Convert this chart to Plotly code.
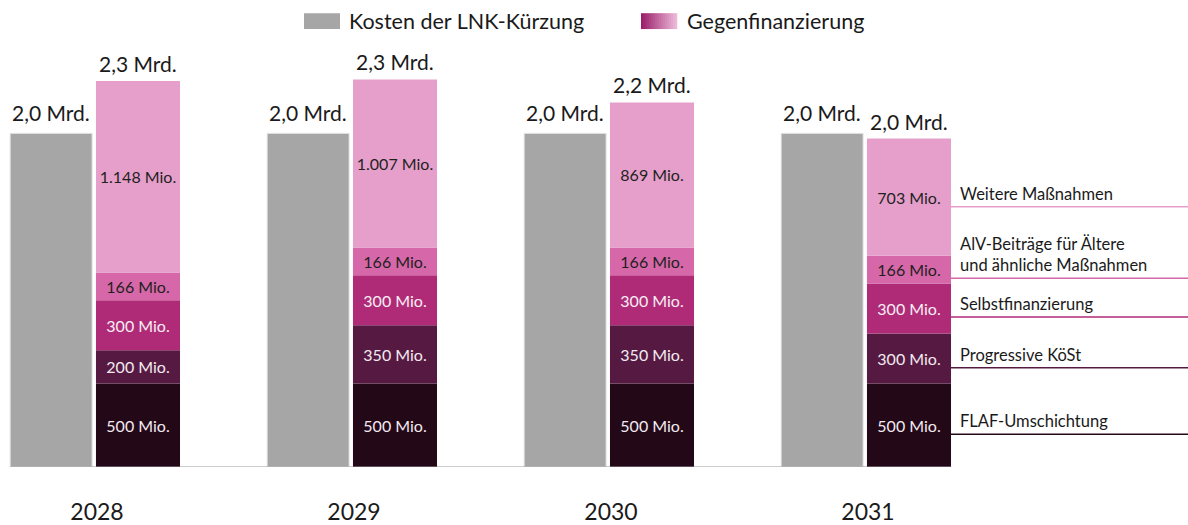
import numpy as np
import plotly.graph_objects as go

years = ["2028", "2029", "2030", "2031"]
kosten = [2000, 2000, 2000, 2000]
kosten_labels = ["2,0 Mrd.", "2,0 Mrd.", "2,0 Mrd.", "2,0 Mrd."]
total_labels = ["2,3 Mrd.", "2,3 Mrd.", "2,2 Mrd.", "2,0 Mrd."]

series_names = ["FLAF-Umschichtung", "Progressive KöSt", "Selbstfinanzierung",
                "AlV-Beiträge für Ältere<br>und ähnliche Maßnahmen", "Weitere Maßnahmen"]
flaf = [500, 500, 500, 500]
koest = [200, 350, 350, 300]
selbst = [300, 300, 300, 300]
alv = [166, 166, 166, 166]
weitere = [1148, 1007, 869, 703]
seg_labels = [
    ["500 Mio.", "500 Mio.", "500 Mio.", "500 Mio."],
    ["200 Mio.", "350 Mio.", "350 Mio.", "300 Mio."],
    ["300 Mio.", "300 Mio.", "300 Mio.", "300 Mio."],
    ["166 Mio.", "166 Mio.", "166 Mio.", "166 Mio."],
    ["1.148 Mio.", "1.007 Mio.", "869 Mio.", "703 Mio."],
]

seg_colors = ["#230818", "#561a42", "#b02b77", "#d668a9", "#e69fca"]
text_colors = ["#f2eaf0", "#f2eaf0", "#f7eef4", "#1f1f1f", "#1f1f1f"]
grey = "#a6a6a6"
FONT = "Lato"

x = np.arange(len(years))
segments = [flaf, koest, selbst, alv, weitere]
seg_arr = np.array(segments, dtype=float)
bases = np.vstack([np.zeros(len(years)), np.cumsum(seg_arr, axis=0)[:-1]])
totals = seg_arr.sum(axis=0)

G_OFF, G_W = -0.338, 0.319
P_OFF, P_W = -0.004, 0.327

T, B = 40, 55
PH = 525 - T - B
SCALE = 0.168

fig = go.Figure()
fig.add_trace(go.Bar(
    x=x, y=kosten, offset=G_OFF, width=G_W, marker_color=grey,
    marker_line=dict(color="#e6e6e6", width=1), showlegend=False,
    name="Kosten der LNK-Kürzung", hoverinfo="skip",
))
for i, vals in enumerate(segments):
    fig.add_trace(go.Bar(
        x=x, y=vals, base=bases[i], offset=P_OFF, width=P_W,
        marker_color=seg_colors[i], marker_line=dict(width=0),
        text=seg_labels[i], textposition="inside", insidetextanchor="middle",
        textangle=0, textfont=dict(family=FONT, size=16, color=text_colors[i]),
        showlegend=False, name=series_names[i], hoverinfo="skip",
    ))

annotations = []
for j in range(len(years)):
    annotations.append(dict(x=x[j] + G_OFF + G_W / 2, y=kosten[j], xref="x", yref="y",
                            text=kosten_labels[j], showarrow=False, yanchor="bottom",
                            yshift=6, font=dict(family=FONT, size=21, color="#1a1a1a")))
    annotations.append(dict(x=x[j] + P_OFF + P_W / 2, y=totals[j], xref="x", yref="y",
                            text=total_labels[j], showarrow=False, yanchor="bottom",
                            yshift=3, font=dict(family=FONT, size=21, color="#1a1a1a")))

# right-side labels with lines
label_y = [196, 595, 899, 1131, 1560]
shapes = []
for i, name in enumerate(series_names):
    shapes.append(dict(type="line", xref="paper", yref="y", x0=950 / 1188, x1=1.0,
                       y0=label_y[i], y1=label_y[i],
                       line=dict(color=seg_colors[i], width=1.6)))
    annotations.append(dict(x=958 / 1188, y=label_y[i], xref="paper", yref="y",
                            text=name, showarrow=False, xanchor="left", yanchor="bottom",
                            yshift=1, align="left",
                            font=dict(family=FONT, size=16.5, color="#1a1a1a")))

# baseline
shapes.append(dict(type="line", xref="x", yref="y", x0=x[0] + G_OFF, x1=x[-1] + P_OFF + P_W,
                   y0=0, y1=0, line=dict(color="#9a9a9a", width=1)))

# legend (manual)
W = 1188
ly0 = 1 + (T - 29) / PH
ly1 = 1 + (T - 13) / PH
shapes.append(dict(type="rect", xref="paper", yref="paper", x0=304 / W, x1=340 / W,
                   y0=ly0, y1=ly1, fillcolor=grey, line=dict(width=0)))
annotations.append(dict(x=347 / W, y=1 + (T - 21) / PH, xref="paper", yref="paper",
                        text="Kosten der LNK-Kürzung", showarrow=False, xanchor="left",
                        yanchor="middle", font=dict(family=FONT, size=21.5, color="#1a1a1a")))
c0 = np.array([0x9b, 0x1f, 0x6a])
c1 = np.array([0xec, 0xb8, 0xd8])
n = 18
gx0, gx1 = 641, 677
for k in range(n):
    c = c0 + (c1 - c0) * k / (n - 1)
    shapes.append(dict(type="rect", xref="paper", yref="paper",
                       x0=(gx0 + (gx1 - gx0) * k / n) / W,
                       x1=(gx0 + (gx1 - gx0) * (k + 1) / n + 0.3) / W,
                       y0=ly0, y1=ly1,
                       fillcolor="rgb(%d,%d,%d)" % tuple(c.astype(int)), line=dict(width=0)))
annotations.append(dict(x=685 / W, y=1 + (T - 21) / PH, xref="paper", yref="paper",
                        text="Gegenfinanzierung", showarrow=False, xanchor="left",
                        yanchor="middle", font=dict(family=FONT, size=21.5, color="#1a1a1a")))

fig.update_layout(
    width=1188, height=525,
    margin=dict(l=0, r=0, t=T, b=B),
    barmode="overlay",
    plot_bgcolor="white", paper_bgcolor="white",
    font=dict(family=FONT, color="#1a1a1a"),
    showlegend=False,
    annotations=annotations,
    shapes=shapes,
    xaxis=dict(range=[-97 / 257, (1188 - 97) / 257], tickvals=x, ticktext=years,
               showgrid=False, zeroline=False, showline=False,
               ticks="outside", ticklen=24, tickcolor="rgba(0,0,0,0)",
               tickfont=dict(family=FONT, size=23, color="#1a1a1a")),
    yaxis=dict(range=[0, PH / SCALE], showgrid=False, zeroline=False,
               showline=False, showticklabels=False, ticks=""),
)

fig.write_html("out.html", config={"displayModeBar": False},
               post_script="document.body.style.margin='0';document.body.style.overflow='hidden';")
